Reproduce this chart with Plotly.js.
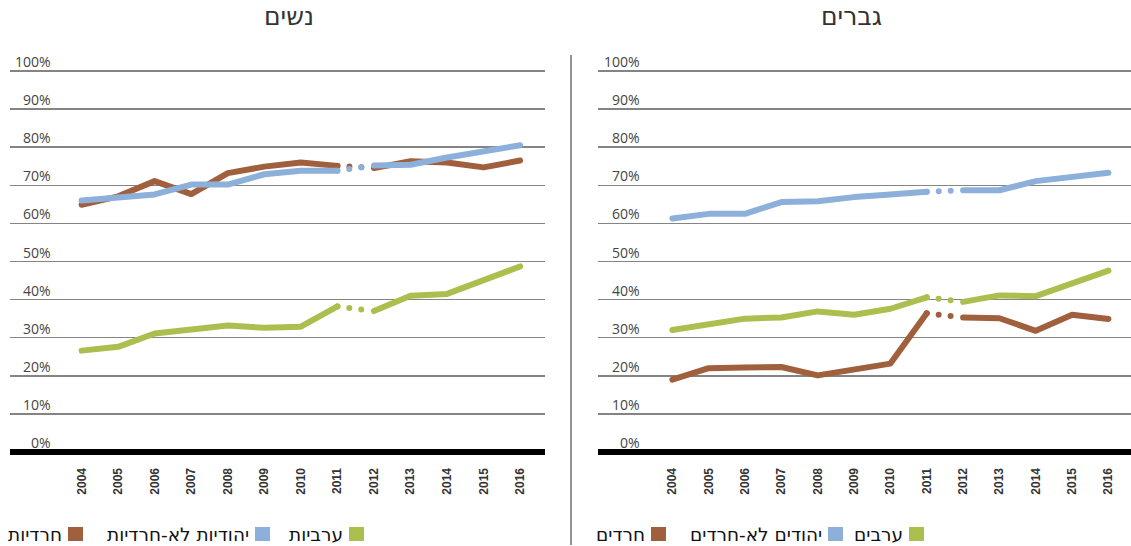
<!DOCTYPE html>
<html>
<head>
<meta charset="utf-8">
<script src="https://cdn.plot.ly/plotly-3.0.1.min.js"></script>
<style>html,body{margin:0;padding:0;background:#fff;}#chart{width:1131px;height:546px;}</style>
</head>
<body>
<div id="chart"></div>
<script>
// ---- data ----
const years = [2004, 2005, 2006, 2007, 2008, 2009, 2010, 2011, 2012, 2013, 2014, 2015, 2016];
const yTicks = [0, 10, 20, 30, 40, 50, 60, 70, 80, 90, 100];
const yTickLabels = ["0%", "10%", "20%", "30%", "40%", "50%", "60%", "70%", "80%", "90%", "100%"];

const panelTitles = ["נשים", "גברים"];

const womenLabels = ["חרדיות", "יהודיות לא-חרדיות", "ערביות"];
const womenHaredi    = [64.9, 67.1, 71.1, 67.7, 73.2, 74.9, 76.0, 75.1, 74.5, 76.3, 76.0, 74.7, 76.5];
const womenNonHaredi = [66.0, 66.7, 67.6, 70.2, 70.2, 72.9, 73.8, 73.8, 75.2, 75.4, 77.3, 78.9, 80.5];
const womenArab      = [26.6, 27.6, 31.1, 32.0, 33.2, 32.6, 32.9, 38.2, 37.0, 41.0, 41.5, 45.2, 48.7];

const menLabels = ["חרדים", "יהודים לא-חרדים", "ערבים"];
const menHaredi    = [19.0, 22.0, 22.2, 22.3, 20.1, 21.7, 23.2, 36.4, 35.3, 35.1, 31.8, 36.0, 34.9];
const menNonHaredi = [61.3, 62.5, 62.5, 65.6, 65.8, 66.9, 67.6, 68.3, 68.7, 68.7, 71.1, 72.2, 73.3];
const menArab      = [32.0, 33.5, 35.0, 35.3, 36.9, 36.0, 37.6, 40.6, 39.4, 41.1, 40.9, 44.3, 47.6];

// ---- styles ----
const colors = ["#A0603D", "#8DB0DA", "#ABBF4E"];
const W = 1131, H = 546;
const LW = 6;
const gapIdx = 7; // 2011 -> 2012 segment drawn dotted
const dotDash = "0px,12px,0px,12px,0px,200px";
const FONT = 'Liberation Sans, Arial, sans-serif';
const HFONT = 'DejaVu Sans, Liberation Sans, sans-serif';

function seriesTraces(vals, color, xa, ya) {
  const out = [];
  const parts = [
    [0, gapIdx + 1, 'solid'],
    [gapIdx, gapIdx + 2, dotDash],
    [gapIdx + 1, years.length, 'solid']
  ];
  parts.forEach(p => {
    out.push({
      type: 'scatter', mode: 'lines',
      x: years.slice(p[0], p[1]), y: vals.slice(p[0], p[1]),
      xaxis: xa, yaxis: ya,
      line: {color: color, width: LW, dash: p[2]},
      hoverinfo: 'skip', showlegend: false
    });
  });
  return out;
}

let traces = [];
[womenHaredi, womenNonHaredi, womenArab].forEach((v, i) => { traces = traces.concat(seriesTraces(v, colors[i], 'x', 'y')); });
[menHaredi, menNonHaredi, menArab].forEach((v, i) => { traces = traces.concat(seriesTraces(v, colors[i], 'x2', 'y2')); });

const yDomain = [(H - 459.6) / H, (H - 67.2) / H];
const yAxisBase = {
  range: [-2, 101], domain: yDomain, tickvals: yTicks, showticklabels: false,
  showgrid: true, gridcolor: '#848484', gridwidth: 1.6, zeroline: false, showline: false, ticks: '',
  fixedrange: true
};
const xAxisBase = {
  tickvals: years, ticktext: years.map(String), tickangle: -90,
  tickfont: {family: FONT, size: 12, color: '#333', weight: 'bold'},
  showgrid: false, zeroline: false, showline: false, ticks: '', ticklabelstandoff: 5,
  fixedrange: true
};

const layout = {
  width: W, height: H,
  margin: {l: 0, r: 0, t: 0, b: 0},
  paper_bgcolor: '#fff', plot_bgcolor: 'rgba(0,0,0,0)',
  showlegend: false,
  font: {family: FONT},
  xaxis: Object.assign({}, xAxisBase, {domain: [10 / W, 545 / W], range: [2002.04, 2016.68], anchor: 'y'}),
  yaxis: Object.assign({}, yAxisBase, {anchor: 'x'}),
  xaxis2: Object.assign({}, xAxisBase, {domain: [598 / W, 1], range: [2001.955, 2016.62], anchor: 'y2'}),
  yaxis2: Object.assign({}, yAxisBase, {anchor: 'x2'}),
  shapes: [],
  annotations: []
};

// thick base line at 0%
['x', 'x2'].forEach((xa, i) => {
  layout.shapes.push({type: 'line', xref: xa + ' domain', yref: i === 0 ? 'y' : 'y2',
    x0: 0, x1: 1, y0: 0, y1: 0, line: {color: '#000', width: 6}});
});
// separator
layout.shapes.push({type: 'line', xref: 'paper', yref: 'paper', x0: 571 / W, x1: 571 / W,
  y0: (H - 545) / H, y1: (H - 55) / H, line: {color: '#6e6e6e', width: 1.5}});

// y tick labels (above gridlines, right aligned)
[[53, 'y'], [642, 'y2']].forEach(cfg => {
  yTicks.forEach((t, i) => {
    layout.annotations.push({
      xref: 'paper', yref: cfg[1], x: cfg[0] / W, y: t, xanchor: 'right', yanchor: 'bottom',
      yshift: -2, showarrow: false, text: yTickLabels[i],
      font: {family: 'Open Sans, Liberation Sans, sans-serif', size: 14, color: '#444'}
    });
  });
});

// panel titles
[[289, panelTitles[0]], [851, panelTitles[1]]].forEach(c => {
  layout.annotations.push({xref: 'paper', yref: 'paper', x: c[0] / W, y: (H - 16) / H,
    xanchor: 'center', yanchor: 'middle', showarrow: false, text: c[1],
    font: {family: HFONT, size: 25, color: '#333'}});
});

// legends (RTL: swatch to the right of text)
const legendY = 534;
const sw = 15, sh = 14;
function addLegend(labels, squareX) {
  labels.forEach((lab, i) => {
    const x0 = squareX[i];
    layout.shapes.push({type: 'rect', xref: 'paper', yref: 'paper',
      x0: x0 / W, x1: (x0 + sw) / W, y0: (H - legendY - sh / 2) / H, y1: (H - legendY + sh / 2) / H,
      fillcolor: colors[i], line: {width: 0}});
    layout.annotations.push({xref: 'paper', yref: 'paper', x: (x0 - 4) / W, y: (H - legendY) / H,
      xanchor: 'right', yanchor: 'middle', showarrow: false, text: lab,
      font: {family: HFONT, size: 18.5, color: '#111'}});
  });
}
addLegend(womenLabels, [68, 255, 349]);
addLegend(menLabels, [651, 828, 909]);

Plotly.newPlot('chart', traces, layout, {displayModeBar: false, staticPlot: true}).then(() => {
  document.querySelectorAll('.scatterlayer path.js-line').forEach(p => {
    p.style.strokeLinecap = 'round';
    p.style.strokeLinejoin = 'round';
  });
});
</script>
</body>
</html>
